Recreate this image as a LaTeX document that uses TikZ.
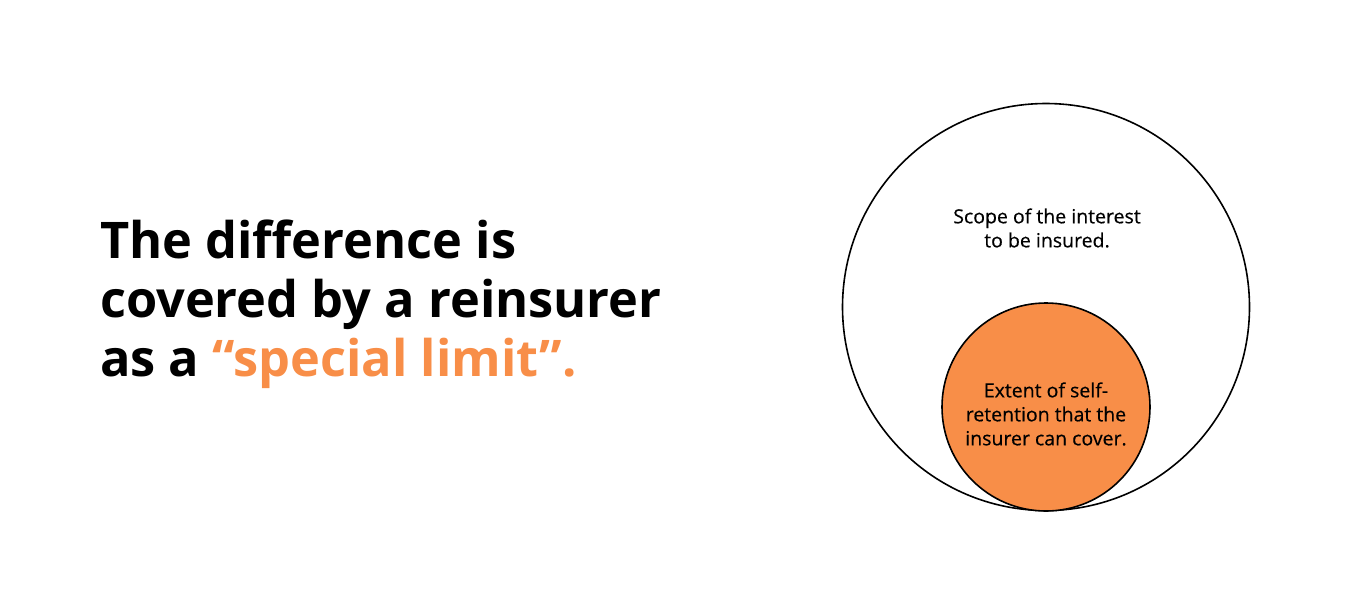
\documentclass[tikz,border=0pt]{standalone}
\usepackage{fontspec}
\setmainfont{Open Sans}
\usepackage{tikz}
\usetikzlibrary{positioning}
\definecolor{accor}{HTML}{F88E48}
\tikzset{
  ring/.style={circle,draw=black,line width=1.6pt,inner sep=0pt},
  lbl/.style={align=center,inner sep=0pt,font=\addfontfeature{FakeBold=0.4}\fontsize{19.5}{24}\selectfont},
  head/.style={align=left,inner sep=0pt,font=\bfseries\fontsize{50.5}{59}\selectfont}
}

\begin{document}
\begin{tikzpicture}[x=1pt,y=-1pt]
\useasboundingbox (0,0) rectangle (1350,600);
% outer and inner circle
\node[ring,minimum size=407pt] (scope) at (1046,307) {};
\node[ring,fill=accor,minimum size=208pt] (retain) at (1046,407) {};
\node[lbl] (scopetxt) at (1047,228) {Scope of the interest\\to be insured.};
\node[lbl] (retaintxt) at (1046,414) {Extent of self-\\retention that the\\insurer can cover.};
% heading
\node[head,anchor=west] (diff) at (100,304) {The difference is\\covered by a reinsurer\\as a \textcolor{accor}{“special limit”.}};
\end{tikzpicture}
\end{document}
